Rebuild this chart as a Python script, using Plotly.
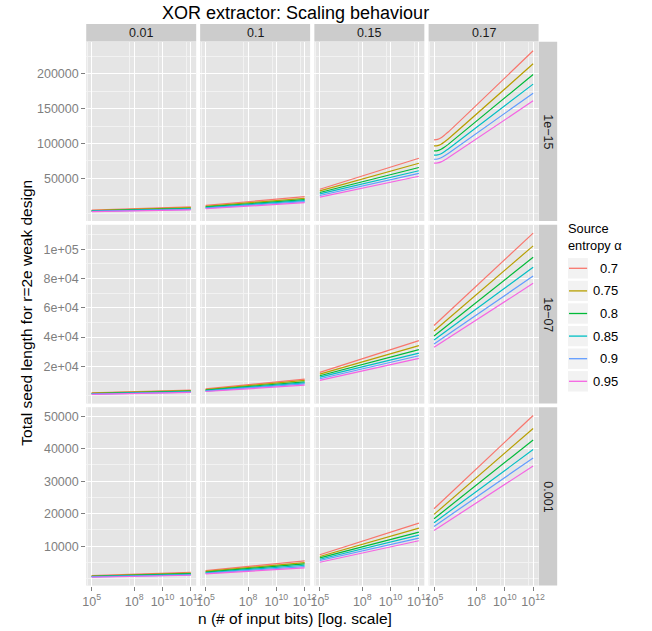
import plotly.graph_objects as go

# ---------------- data ----------------
ALPHAS = ["0.7", "0.75", "0.8", "0.85", "0.9", "0.95"]
COLORS = ["#F8766D", "#B79F00", "#00BA38", "#00BFC4", "#619CFF", "#F564E3"]
RATE_LABELS = ["0.01", "0.1", "0.15", "0.17"]
EPS_LABELS = ["1e\u221215", "1e\u221207", "0.001"]

N_TWO = [1.0e5, 1.0e12]
N_BEND = [1.0e5, 1.78e5, 3.16e5, 5.62e5, 1.0e6, 1.0e12]

# eps = 1e-15
E15_R001 = [[4300, 8900], [3700, 7800], [3200, 6900], [2800, 6100], [2400, 5400], [2000, 4700]]
E15_R010 = [[11000, 23500], [9750, 21200], [8750, 19200], [7850, 17800], [7000, 16400], [6200, 14900]]
E15_R015 = [[34200, 78800], [31800, 71600], [29600, 65500], [27500, 60800], [25200, 56900], [23000, 52900]]
E15_R017 = [[105100, 105900, 108300, 112200, 116400, 233100],
            [96400, 96900, 98900, 102450, 106500, 214400],
            [89300, 89700, 91700, 94900, 98700, 199000],
            [83100, 83500, 85300, 88400, 91900, 185200],
            [77300, 77700, 79400, 82200, 85500, 172200],
            [71600, 72000, 73500, 76200, 79300, 161200]]
# eps = 1e-07
E07_R001 = [[2000, 3900], [1700, 3450], [1500, 3100], [1250, 2800], [1050, 2450], [900, 2200]]
E07_R010 = [[4700, 11300], [4200, 10400], [3850, 9500], [3500, 8800], [3150, 8100], [2850, 7200]]
E07_R015 = [[15900, 37600], [14700, 34200], [13600, 31500], [12700, 29100], [11600, 27300], [10400, 25500]]
E07_R017 = [[47900, 111000], [44200, 102300], [40800, 94500], [38000, 87700], [35300, 81700], [33000, 76700]]
# eps = 0.001
E03_R001 = [[960, 1980], [820, 1740], [710, 1540], [620, 1370], [530, 1200], [440, 1050]]
E03_R010 = [[2500, 5500], [2230, 4970], [2020, 4570], [1820, 4140], [1640, 3740], [1480, 3340]]
E03_R015 = [[7350, 17100], [6820, 15550], [6420, 14320], [5990, 13390], [5590, 12470], [5060, 11670]]
E03_R017 = [[21540, 50230], [19780, 46220], [18450, 42700], [17220, 39740], [16080, 37150], [14840, 34680]]

X_TICKS = [1e5, 1e8, 1e10, 1e12]
X_TICKTEXT = ["10<sup>5</sup>", "10<sup>8</sup>", "10<sup>10</sup>", "10<sup>12</sup>"]
X_MINOR = [5e4, 5e7, 5e9, 5e11]

Y_TICKS = [[50000, 100000, 150000, 200000],
           [20000, 40000, 60000, 80000, 100000],
           [10000, 20000, 30000, 40000, 50000]]
Y_TICKTEXT = [["50000", "100000", "150000", "200000"],
              ["2e+04", "4e+04", "6e+04", "8e+04", "1e+05"],
              ["10000", "20000", "30000", "40000", "50000"]]
Y_MINOR = [[0, 25000, 75000, 125000, 175000, 225000],
           [0, 10000, 30000, 50000, 70000, 90000, 110000],
           [0, 5000, 15000, 25000, 35000, 45000]]
Y_RANGES = [[-11400, 246000], [-5400, 116700], [-2130, 52780]]

PANELS = [[E15_R001, E15_R010, E15_R015, E15_R017],
          [E07_R001, E07_R010, E07_R015, E07_R017],
          [E03_R001, E03_R010, E03_R015, E03_R017]]

# ---------------- layout geometry (pixels) ----------------
W, H = 652, 631
COL_LEFT = [83.5, 199.2, 315.2, 431.2]
COL_W = 111.7
ROW_TOP = [41.8, 224.8, 407.2]
ROW_BOT = [221.0, 403.6, 585.6]
FONT = "Liberation Sans, Arial, Helvetica, sans-serif"
GREY_TXT = "#7F7F7F"


def px(x):
    return x / W


def py(y):
    return 1 - y / H


fig = go.Figure()
layout = {}
for r in range(3):
    for c in range(4):
        k = r * 4 + c + 1
        sfx = "" if k == 1 else str(k)
        data = PANELS[r][c]
        xs = N_BEND if len(data[0]) == len(N_BEND) else N_TWO
        for i in range(len(ALPHAS)):
            fig.add_trace(go.Scatter(
                x=xs, y=data[i], mode="lines",
                line=dict(color=COLORS[i], width=1.2, shape="spline", smoothing=0.6),
                xaxis="x" + sfx, yaxis="y" + sfx,
                showlegend=False, hoverinfo="skip"))
        layout["xaxis" + sfx] = dict(
            type="log", range=[4.615, 12.385],
            domain=[px(COL_LEFT[c]), px(COL_LEFT[c] + COL_W)],
            anchor="y" + sfx,
            tickmode="array", tickvals=X_TICKS, ticktext=X_TICKTEXT,
            showticklabels=(r == 2), ticks="outside" if r == 2 else "",
            ticklen=4, tickwidth=1, tickcolor=GREY_TXT,
            tickfont=dict(family=FONT, size=12.5, color=GREY_TXT),
            showgrid=True, gridcolor="white", gridwidth=1.4,
            minor=dict(tickvals=X_MINOR, showgrid=True, gridcolor="#F2F2F2",
                       gridwidth=0.8, ticks=""),
            zeroline=False, showline=False, fixedrange=True)
        layout["yaxis" + sfx] = dict(
            range=Y_RANGES[r],
            domain=[py(ROW_BOT[r]), py(ROW_TOP[r])],
            anchor="x" + sfx,
            tickmode="array", tickvals=Y_TICKS[r], ticktext=Y_TICKTEXT[r],
            showticklabels=(c == 0), ticks="outside" if c == 0 else "",
            ticklen=4, tickwidth=1, tickcolor=GREY_TXT,
            tickfont=dict(family=FONT, size=12.5, color=GREY_TXT),
            showgrid=True, gridcolor="white", gridwidth=1.4,
            minor=dict(tickvals=Y_MINOR[r], showgrid=True, gridcolor="#F2F2F2",
                       gridwidth=0.8, ticks=""),
            zeroline=False, showline=False, fixedrange=True)

shapes = []
annotations = []
# column strips
for c, lab in enumerate(RATE_LABELS):
    x0, x1 = COL_LEFT[c], COL_LEFT[c] + COL_W
    shapes.append(dict(type="rect", xref="paper", yref="paper", layer="below",
                       x0=px(x0), x1=px(x1), y0=py(41.6), y1=py(24.0),
                       fillcolor="#CCCCCC", line=dict(width=0)))
    annotations.append(dict(xref="paper", yref="paper", x=px((x0 + x1) / 2), y=py(33.0),
                            text=lab, showarrow=False, xanchor="center", yanchor="middle",
                            font=dict(family=FONT, size=12.5, color="#1A1A1A")))
# row strips
for r, lab in enumerate(EPS_LABELS):
    shapes.append(dict(type="rect", xref="paper", yref="paper", layer="below",
                       x0=px(543.2), x1=px(561.8), y0=py(ROW_BOT[r]), y1=py(ROW_TOP[r]),
                       fillcolor="#CCCCCC", line=dict(width=0)))
    annotations.append(dict(xref="paper", yref="paper", x=px(552.5),
                            y=py((ROW_TOP[r] + ROW_BOT[r]) / 2),
                            text=lab, textangle=90, showarrow=False,
                            xanchor="center", yanchor="middle",
                            font=dict(family=FONT, size=12.5, color="#1A1A1A")))

# titles
annotations.append(dict(xref="paper", yref="paper", x=px(296), y=py(13),
                        text="XOR extractor: Scaling behaviour", showarrow=False,
                        xanchor="center", yanchor="middle",
                        font=dict(family=FONT, size=18, color="black")))
annotations.append(dict(xref="paper", yref="paper", x=px(296), y=py(618),
                        text="n (# of input bits) [log. scale]", showarrow=False,
                        xanchor="center", yanchor="middle",
                        font=dict(family=FONT, size=15.5, color="black")))
annotations.append(dict(xref="paper", yref="paper", x=px(22), y=py(313),
                        text="Total seed length for r=2e weak design", showarrow=False,
                        textangle=-90, xanchor="center", yanchor="middle",
                        font=dict(family=FONT, size=15.5, color="black")))

# legend (custom, ggplot style)
annotations.append(dict(xref="paper", yref="paper", x=px(571), y=py(219),
                        text="Source<br>entropy \u03b1", showarrow=False, align="left",
                        xanchor="left", yanchor="top",
                        font=dict(family=FONT, size=12.8, color="black")))
for i, lab in enumerate(ALPHAS):
    top = 257.6 + 22.6 * i
    shapes.append(dict(type="rect", xref="paper", yref="paper",
                       x0=px(572.3), x1=px(593.5), y0=py(top + 21.4), y1=py(top),
                       fillcolor="#F2F2F2", line=dict(color="white", width=1)))
    shapes.append(dict(type="line", xref="paper", yref="paper",
                       x0=px(573.8), x1=px(592.2), y0=py(top + 10.7), y1=py(top + 10.7),
                       line=dict(color=COLORS[i], width=1.3)))
    annotations.append(dict(xref="paper", yref="paper", x=px(625.5), y=py(top + 10.7),
                            text=lab, showarrow=False, xanchor="right", yanchor="middle",
                            font=dict(family=FONT, size=13, color="black")))

fig.update_layout(
    width=W, height=H,
    margin=dict(l=0, r=0, t=0, b=0),
    paper_bgcolor="white", plot_bgcolor="#E5E5E5",
    showlegend=False,
    shapes=shapes, annotations=annotations,
    **layout)

fig.write_html("out.html", config={"displayModeBar": False},
               post_script="document.body.style.margin='0';document.body.style.padding='0';")
